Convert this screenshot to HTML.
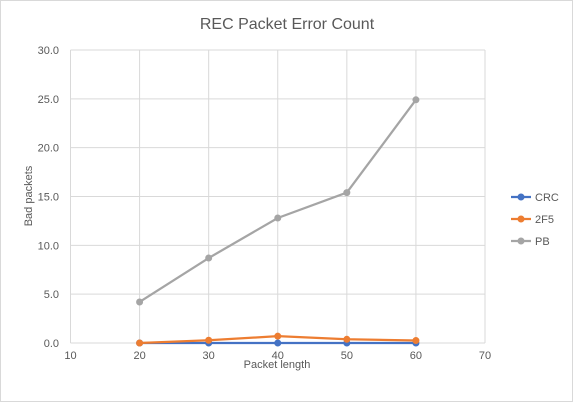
<!DOCTYPE html>
<html><head><meta charset="utf-8"><style>
body{margin:0;background:#fff;font-family:"Liberation Sans",sans-serif;}
#c{position:absolute;left:0;top:0;width:571px;height:400px;border:1px solid #d9d9d9;}
</style></head><body>
<div id="c">
<svg width="573" height="402" id="svg"></svg>
</div>
<script>
const xCats=[20,30,40,50,60];
const crc=[0,0,0,0,0];
const f2f5=[0,0.28,0.7,0.38,0.25];
const pb=[4.2,8.7,12.8,15.4,24.9];
const xTicks=[10,20,30,40,50,60,70];
const yTicks=[0,5,10,15,20,25,30];
const seriesNames=["CRC","2F5","PB"];
const colors=["#4472c4","#ed7d31","#a5a5a5"];
const ns="http://www.w3.org/2000/svg";
const svg=document.getElementById('svg');
const X=v=>69.5+(v-10)*(484-69.5)/60;
const Y=v=>342-v*(342-49)/30;
function mk(t,a,p){const e=document.createElementNS(ns,t);for(const k in a)e.setAttribute(k,a[k]);(p||svg).appendChild(e);return e;}
yTicks.forEach(v=>{const l=mk('line',{x1:69.5,x2:484,y1:Y(v),y2:Y(v),stroke:'#d9d9d9','stroke-width':1});


const t=mk('text',{x:58,y:Y(v)+4,'text-anchor':'end','font-size':11,fill:'#595959'});t.textContent=v.toFixed(1);

});
xTicks.forEach(v=>{const l=mk('line',{x1:X(v),x2:X(v),y1:49,y2:342,stroke:'#d9d9d9','stroke-width':1});


const t=mk('text',{x:X(v),y:358,'text-anchor':'middle','font-size':11,fill:'#595959'});t.textContent=v;

});
[crc,f2f5,pb].forEach((s,i)=>{
const pl=mk('polyline',{points:s.map((v,j)=>X(xCats[j])+','+Y(v)).join(' '),fill:'none',stroke:colors[i],'stroke-width':2.25});


s.forEach((v,j)=>{const c=mk('circle',{cx:X(xCats[j]),cy:Y(v),r:3.5,fill:colors[i]});

});
const ly=196+i*22;
const ll=mk('line',{x1:510,x2:530,y1:ly,y2:ly,stroke:colors[i],'stroke-width':2.25});


const lc=mk('circle',{cx:520,cy:ly,r:3.5,fill:colors[i]});


const lt=mk('text',{x:534,y:ly+4,'font-size':11,fill:'#595959'});lt.textContent=seriesNames[i];


});
let t=mk('text',{x:286,y:28,'text-anchor':'middle','font-size':16,fill:'#595959'});t.textContent='REC Packet Error Count';


t=mk('text',{x:276,y:367,'text-anchor':'middle','font-size':11,fill:'#595959'});t.textContent='Packet length';


t=mk('text',{x:31,y:195,'text-anchor':'middle','font-size':11,fill:'#595959',transform:'rotate(-90 31 195)'});t.textContent='Bad packets';


</script>
</body></html>
